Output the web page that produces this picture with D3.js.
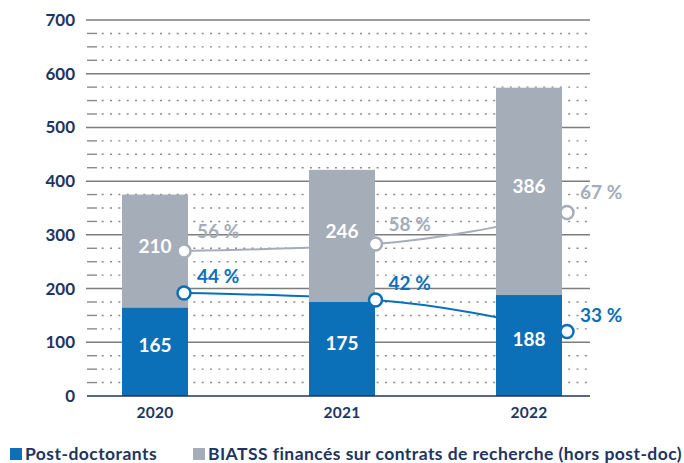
<!DOCTYPE html>
<html>
<head>
<meta charset="utf-8">
<script src="https://cdn.jsdelivr.net/npm/d3@7"></script>
<style>
  body { margin: 0; background: #fff; }
  svg { display: block; font-family: Lato, "Noto Sans", sans-serif; font-weight: 700; }
</style>
</head>
<body>
<svg id="chart" width="684" height="463"></svg>
<script>
// data
var years = ["2020", "2021", "2022"];
var postdocs = [165, 175, 188];
var biatss = [210, 246, 386];
var pctBiatss = [56, 58, 67];
var pctPostdocs = [44, 42, 33];
var yTicks = [0, 100, 200, 300, 400, 500, 600, 700];
var legendLabels = ["Post-doctorants", "BIATSS financés sur contrats de recherche (hors post-doc)"];

var navy = "#1e3461", blue = "#0b70b8", grey = "#a5adb9";
var left = 87, right = 590, barW = 66;

var svg = d3.select("#chart");

var y = d3.scaleLinear().domain([0, 700]).range([396, 20]);
// percentages sit on their own hidden scale
var yPct = d3.scaleLinear().domain([14.57, 122]).range([396, 20]);
var x = d3.scalePoint().domain(years).range([155, 529]);
var xPt = d3.scalePoint().domain(years).range([184, 567]);

// grid: solid every 100, dotted every 25
var grid = svg.append("g");
var minor = d3.range(25, 700, 25).filter(v => v % 100 != 0);
grid.selectAll(".dash").data(minor).join("line")
    .attr("x1", left).attr("x2", left + 10)
    .attr("y1", d => y(d)).attr("y2", d => y(d))
    .attr("stroke", "#8a8a8a").attr("stroke-width", 1.4);
grid.selectAll(".dots").data(minor).join("line")
    .attr("x1", left + 14.7).attr("x2", right - 3)
    .attr("y1", d => y(d)).attr("y2", d => y(d))
    .attr("stroke", "#8a8a8a").attr("stroke-width", 1.4)
    .attr("stroke-dasharray", "2,6.33");
grid.selectAll(".major").data(yTicks.slice(1)).join("line")
    .attr("x1", left - 1).attr("x2", right)
    .attr("y1", d => y(d)).attr("y2", d => y(d))
    .attr("stroke", "#7d7d7d").attr("stroke-width", 1.5);

var yAxis = svg.append("g")
    .attr("transform", "translate(75,0)")
    .call(d3.axisLeft(y).tickValues(yTicks).tickSize(0).tickPadding(0));
yAxis.select(".domain").remove();
yAxis.selectAll("text")
    .attr("fill", navy).style("font-size", "17px")
    .style("font-family", "Lato, sans-serif").style("font-weight", 700);

// lines go behind the bars
var lineGen = d3.line()
    .x((d, i) => xPt(years[i]))
    .y(d => yPct(d))
    .curve(d3.curveMonotoneX);

svg.append("path").attr("d", lineGen(pctBiatss))
    .attr("fill", "none").attr("stroke", grey).attr("stroke-width", 2);
svg.append("path").attr("d", lineGen(pctPostdocs))
    .attr("fill", "none").attr("stroke", blue).attr("stroke-width", 2);

// stacked bars
var bars = svg.append("g");
bars.selectAll(".pd").data(postdocs).join("rect")
    .attr("x", (d, i) => x(years[i]) - barW / 2)
    .attr("width", barW)
    .attr("y", d => y(d))
    .attr("height", d => y(0) - y(d))
    .attr("fill", blue);
bars.selectAll(".bi").data(biatss).join("rect")
    .attr("x", (d, i) => x(years[i]) - barW / 2)
    .attr("width", barW)
    .attr("y", (d, i) => y(d + postdocs[i]))
    .attr("height", (d, i) => y(postdocs[i]) - y(d + postdocs[i]))
    .attr("fill", grey);

bars.selectAll(".pdl").data(postdocs).join("text")
    .attr("x", (d, i) => x(years[i]))
    .attr("y", d => y(d / 2) - 6)
    .attr("dy", "0.35em")
    .attr("text-anchor", "middle")
    .attr("fill", "#fff").style("font-size", "19px")
    .text(d => d);
bars.selectAll(".bil").data(biatss).join("text")
    .attr("x", (d, i) => x(years[i]))
    .attr("y", (d, i) => y(postdocs[i] + d / 2) - 5)
    .attr("dy", "0.35em")
    .attr("text-anchor", "middle")
    .attr("fill", "#fff").style("font-size", "19px")
    .text(d => d);

// baseline
svg.append("line")
    .attr("x1", left).attr("x2", right)
    .attr("y1", y(0)).attr("y2", y(0))
    .attr("stroke", navy).attr("stroke-width", 1.6);

// x labels
svg.selectAll(".yr").data(years).join("text")
    .attr("x", d => x(d))
    .attr("y", 418)
    .attr("text-anchor", "middle")
    .attr("fill", navy).style("font-size", "15.5px")
    .style("letter-spacing", "0.3px")
    .text(d => d);

// markers + percentage labels
function markers(vals, color, off) {
  svg.append("g").selectAll("circle").data(vals).join("circle")
      .attr("cx", (d, i) => xPt(years[i]))
      .attr("cy", d => yPct(d))
      .attr("r", 6.5)
      .attr("fill", "#fff").attr("stroke", color).attr("stroke-width", 2.5);
  svg.append("g").selectAll("text").data(vals).join("text")
      .attr("x", (d, i) => xPt(years[i]) + 13)
      .attr("y", d => yPct(d) - off)
      .attr("fill", color).style("font-size", "19px")
      .text(d => d + " %");
}
markers(pctBiatss, grey, 13);
markers(pctPostdocs, blue, 9.5);

// legend
var legend = svg.append("g");
var legX = [10, 193];
[blue, grey].forEach(function(c, i) {
  legend.append("rect").attr("x", legX[i]).attr("y", 448)
      .attr("width", 12).attr("height", 12).attr("fill", c);
  legend.append("text").attr("x", legX[i] + 15).attr("y", 460)
      .attr("fill", navy).style("font-size", "17.5px")
      .style("letter-spacing", "0.45px")
      .text(legendLabels[i]);
});
</script>
</body>
</html>
